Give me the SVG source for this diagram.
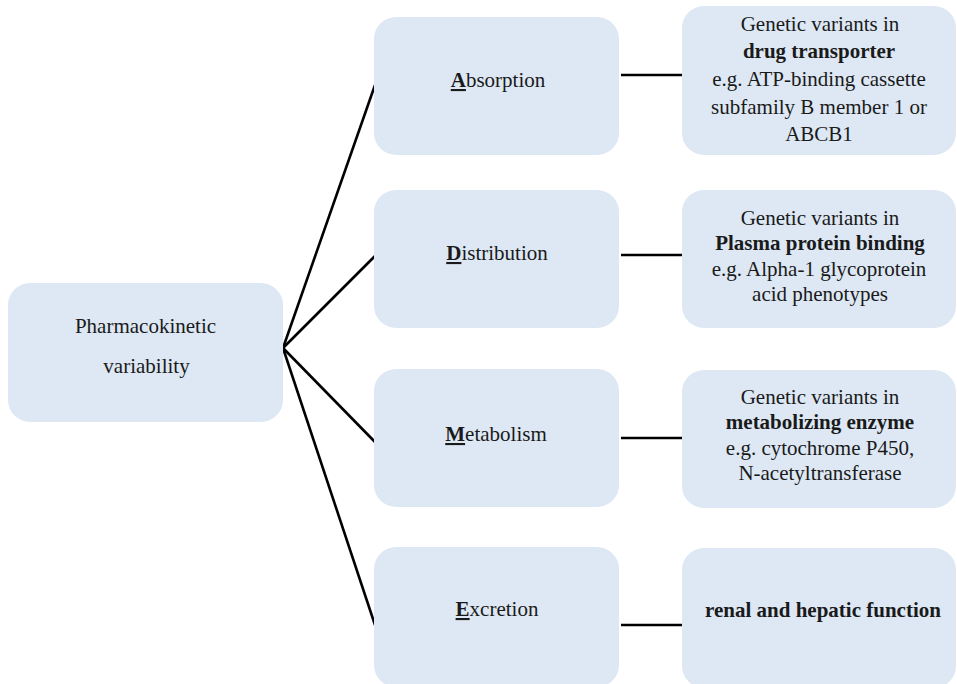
<svg xmlns="http://www.w3.org/2000/svg" width="957" height="684" viewBox="0 0 957 684">
<style>
.box{fill:#dde8f4;stroke:none}
.t{font-family:"Liberation Serif","Times New Roman",serif;font-size:21px;fill:#1a1a1a;text-anchor:middle}
.b{font-weight:bold}
.u{font-weight:bold;text-decoration:underline}
.c{stroke:#000;stroke-width:2.6;fill:none;stroke-linecap:butt}
</style>
<rect width="957" height="684" fill="#fff"/>
<g id="connectors">
<line class="c" x1="283" y1="348" x2="375" y2="85"/>
<line class="c" x1="283" y1="348" x2="375" y2="256"/>
<line class="c" x1="283" y1="348" x2="375" y2="442"/>
<line class="c" x1="283" y1="348" x2="375" y2="625"/>
<line class="c" x1="621" y1="75" x2="683" y2="75"/>
<line class="c" x1="621" y1="255" x2="683" y2="255"/>
<line class="c" x1="621" y1="438" x2="683" y2="438"/>
<line class="c" x1="621" y1="625" x2="683" y2="625"/>
</g>
<g id="pk">
<rect class="box" x="8" y="283" width="275" height="139" rx="22"/>
<text class="t" x="145.5" y="333">Pharmacokinetic</text>
<text class="t" x="146.5" y="373">variability</text>
</g>
<g id="absorption">
<rect class="box" x="374" y="17" width="245" height="138" rx="22"/>
<text class="t" x="498" y="87"><tspan class="u">A</tspan>bsorption</text>
</g>
<g id="distribution">
<rect class="box" x="374" y="190" width="245" height="138" rx="22"/>
<text class="t" x="497" y="260"><tspan class="u">D</tspan>istribution</text>
</g>
<g id="metabolism">
<rect class="box" x="374" y="369" width="245" height="138" rx="22"/>
<text class="t" x="496" y="441"><tspan class="u">M</tspan>etabolism</text>
</g>
<g id="excretion">
<rect class="box" x="374" y="547" width="245" height="140" rx="22"/>
<text class="t" x="497" y="616"><tspan class="u">E</tspan>xcretion</text>
</g>
<g id="transporter">
<rect class="box" x="682" y="6" width="274" height="149" rx="22"/>
<text class="t" x="820" y="31">Genetic variants in</text>
<text class="t b" x="819" y="58">drug transporter</text>
<text class="t" x="819" y="86">e.g. ATP-binding cassette</text>
<text class="t" x="819" y="114">subfamily B member 1 or</text>
<text class="t" x="819" y="141">ABCB1</text>
</g>
<g id="plasma">
<rect class="box" x="682" y="190" width="274" height="138" rx="22"/>
<text class="t" x="820" y="225">Genetic variants in</text>
<text class="t b" x="820" y="250">Plasma protein binding</text>
<text class="t" x="819" y="276">e.g. Alpha-1 glycoprotein</text>
<text class="t" x="820" y="301">acid phenotypes</text>
</g>
<g id="enzyme">
<rect class="box" x="682" y="370" width="274" height="138" rx="22"/>
<text class="t" x="820" y="404">Genetic variants in</text>
<text class="t b" x="820" y="429">metabolizing enzyme</text>
<text class="t" x="820" y="455">e.g. cytochrome P450,</text>
<text class="t" x="820" y="480">N-acetyltransferase</text>
</g>
<g id="renal">
<rect class="box" x="682" y="548" width="274" height="140" rx="22"/>
<text class="t b" x="823" y="617">renal and hepatic function</text>
</g>
</svg>
